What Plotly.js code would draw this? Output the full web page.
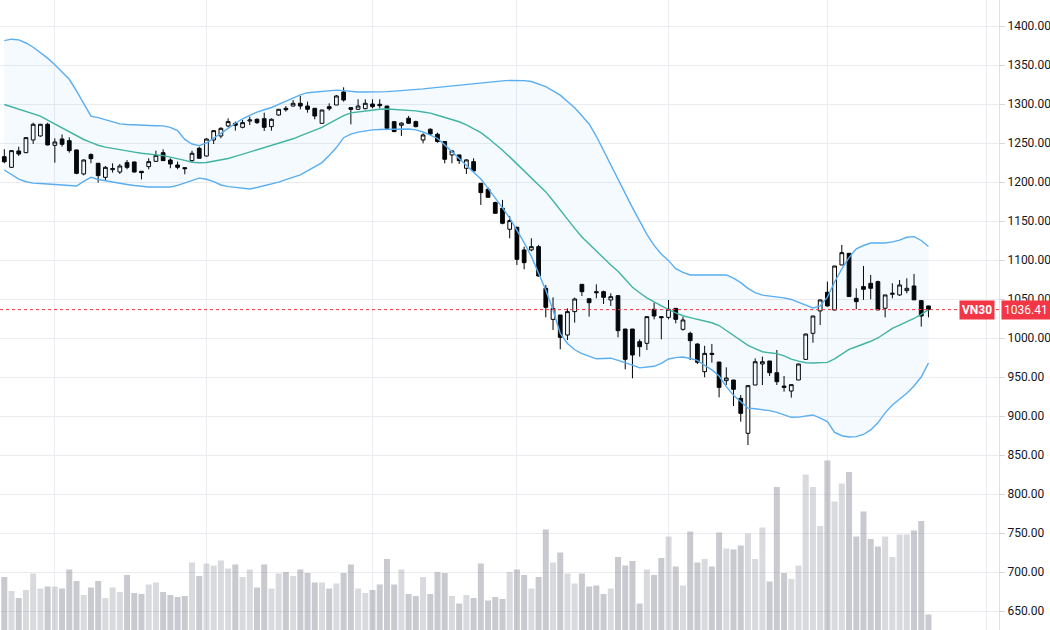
<!DOCTYPE html>
<html>
<head>
<meta charset="utf-8">
<script src="https://cdn.plot.ly/plotly-3.0.1.min.js"></script>
<style>
  html, body { margin: 0; padding: 0; background: #ffffff; }
  #chart { width: 1050px; height: 630px; }
</style>
</head>
<body>
<div id="chart"></div>
<script>
const symbol = 'VN30';

const openP = [1232.5,1218.8,1239.8,1237.6,1253.9,1259,1274,1247,1255.2,1253,
1241.1,1210.3,1235.1,1224,1206,1215.8,1212.8,1224.8,1225.7,1213.7,
1219.7,1226.5,1237.6,1228.2,1221.8,1218.4,1227.4,1243.2,1233.3,1253.9,
1259,1271.8,1275.2,1270.1,1278.2,1280.4,1281.2,1271,1285.9,1294.5,
1297.4,1300.9,1297.4,1294.5,1275.2,1296.6,1298.7,1315.4,1295.3,1293.2,
1294,1300,1299.6,1297.4,1277.4,1272.7,1281.7,1277.4,1253.9,1267.6,
1261.2,1251.8,1234.7,1234.7,1217.6,1226.1,1198.3,1190.6,1173.6,1166.3,
1139.4,1141.9,1112.9,1112.9,1117.1,1063.7,1023.9,1029.5,1003.8,1033.8,
1068.8,1050.4,1059.4,1059.4,1048.7,1054.3,1011.5,1011.5,995.3,993.2,
1036.8,1027.4,1026.5,1038,1011.1,1006,992.3,956.8,980.3,969.2,
945.3,946.1,922.6,877.8,939.7,966.7,970.5,955.5,938.4,932,
946.1,972.6,1006,1034.7,1058.6,1035.9,1093.6,1108.6,1050.9,1065.9,
1070.1,1072.3,1038.1,1056,1055.2,1060.7,1066.7,1047.9,1041.1];

const highP = [1242,1241,1245.3,1257,1276,1274.5,1276,1256,1261,1257.3,
1241.5,1229,1236.8,1224.5,1220.5,1224,1223.1,1228.2,1226,1214,
1230.4,1240.2,1241.9,1230.4,1226.1,1218.6,1240.2,1245.3,1256,1266.7,
1270.1,1281.6,1277.4,1279.5,1283.8,1281.6,1288.9,1281.6,1293.6,1297.4,
1305.1,1310.3,1303,1294.5,1292.5,1300.9,1311.6,1321.4,1295.5,1306,
1306,1306,1306,1297.5,1277.4,1276.5,1284.7,1278.7,1262.4,1268.9,
1263.3,1252,1241.1,1234.9,1229.1,1230.4,1198.5,1193.2,1174.8,1177,
1156.5,1142.8,1117.1,1127.8,1119.3,1068,1052.1,1029.6,1038,1051.7,
1069,1050.5,1068.8,1060.7,1057.3,1054.4,1011.6,1011.6,998.3,1027.5,
1045.3,1027.5,1048.7,1038.1,1027.4,1008.1,993.2,990,992.4,969.3,
962.4,946.2,926.9,939.7,973.9,976.1,970.6,984.6,951.3,940.5,
967,1005.5,1028.5,1049,1072.3,1092.5,1119.3,1108.7,1063.7,1092.3,
1080.8,1073.5,1055.2,1070.1,1074.4,1076.5,1082.1,1048,1041.2];

const lowP = [1224,1218,1233.4,1237,1248.8,1258,1247,1224.8,1245.3,1237.6,
1210,1208.5,1224,1199.2,1202.6,1212,1210.3,1216.3,1212,1203.4,
1216.3,1225.6,1227,1217.6,1216.3,1209.9,1226,1230,1232.5,1248.7,
1256,1270.1,1265.8,1268.8,1273.1,1274.4,1265.4,1265.8,1285,1290.2,
1296.6,1293.2,1288.9,1280.4,1275,1291.5,1298.5,1303,1273.9,1292.3,
1293.2,1294.5,1294.5,1268.5,1264,1259,1274.4,1270.1,1249.6,1260.3,
1250.5,1224,1224,1223.1,1210.3,1213.3,1170.6,1180.2,1159.7,1145.8,
1127.8,1093.6,1088.1,1111.2,1078.7,1026.5,1010.3,985.5,997.4,1019.7,
1053.8,1027.4,1050.9,1043.6,1041,1000.9,959.8,948.3,976.1,984.6,
1023.9,998.3,1023.9,1018.8,1009.4,971.8,966.7,949.6,968.4,923.9,
939.7,912.8,892.7,862.8,939.5,939.7,951.3,939.7,931.2,923.5,
946,972,994,1016.7,1040.2,1035.5,1093.5,1053,1036.8,1048.8,
1049.6,1035.9,1026.5,1050.9,1053.9,1057.3,1048.8,1014.6,1026.5];

const closeP = [1226,1240.2,1235.9,1256.9,1274,1274,1247.5,1251.3,1248.3,1240.2,
1211.1,1228.2,1229.9,1208.2,1218.8,1217.1,1220.5,1218.8,1212.8,1212,
1226.1,1234.2,1227.4,1223.1,1218.8,1217.1,1236.8,1230.4,1255.1,1265.8,
1268.8,1277.4,1272.7,1276.1,1279.5,1276.1,1270.1,1280.4,1293.2,1292.7,
1300.9,1297.4,1293.2,1284.6,1292.3,1294,1310.3,1305.1,1293.2,1297.4,
1300.9,1296.6,1297.9,1268.8,1264.6,1275.5,1275.3,1271,1260.3,1261.6,
1251.8,1229.1,1239.8,1227.4,1228.3,1214.2,1186.4,1180.4,1159.9,1147.1,
1150.5,1100.9,1096.6,1117.1,1079.5,1039.3,1038,1000.9,1033.8,1050,
1059.4,1045.3,1058.1,1052.1,1053,1009.4,972.6,978.2,988.9,1027.4,
1028.2,1026.1,1036.8,1023.9,1023.1,996.6,969,980.3,979,936.7,
948.7,934.2,903.4,938.9,969.6,969.6,955.5,944,936.7,940.2,
966.7,1005.1,1028.2,1048.8,1041.1,1092.3,1109.4,1053.1,1046.6,1062.4,
1063.7,1036,1055.2,1057.3,1068,1063.7,1048.9,1028.2,1036.41];

const volume = [106,78,64,80,113,83,87,87,83,121,
98,70,85,98,64,85,76,110,74,72,
91,95,76,70,66,68,135,108,133,129,
139,123,131,106,121,85,131,83,113,116,
108,121,114,95,95,83,93,114,131,83,
74,80,91,142,91,121,72,68,106,72,
116,114,68,53,70,64,133,59,66,62,
116,121,110,83,106,201,135,155,113,93,
113,87,89,72,83,146,129,138,53,121,
110,144,187,127,89,197,135,142,127,195,
163,161,169,193,142,205,97,286,114,102,
129,311,286,208,339,257,293,316,187,237,
182,167,187,146,191,191,199,218,31];

const bbUpper = [1381.2,1383.1,1382.2,1378.2,1372.8,1366.3,1358.8,1350.3,1340.9,1331.7,
1316.7,1300,1284.4,1282.6,1279.9,1277.1,1274.5,1273.7,1273.1,1272.7,
1272.4,1272.2,1271.9,1270,1265.8,1254.6,1248.7,1246.7,1250,1255.9,
1262.2,1268.7,1275.3,1281,1285.4,1289.7,1292.6,1295.5,1299.6,1304,
1308.2,1311.8,1314.5,1315.1,1316,1316.9,1317.8,1317.1,1316.2,1315.4,
1315.4,1315.4,1315.4,1315.9,1316.5,1317.1,1317.6,1318.3,1319.4,1320.4,
1321.4,1322.4,1323.3,1324.2,1325.1,1326.2,1327.1,1328,1328.8,1329.7,
1330.3,1330.6,1330,1328.8,1325.8,1322.4,1316.9,1311.3,1303.2,1295.3,
1284.9,1274.4,1258.6,1240.8,1222.3,1203.8,1185.4,1167.2,1149.5,1132.8,
1118.8,1107.6,1099.2,1088.8,1084.2,1080.8,1080.8,1080.8,1080.9,1081.7,
1080.9,1076.8,1071,1063.6,1058.2,1054.9,1053.8,1053,1051.5,1049.4,
1045.6,1042,1038.5,1041.2,1052.3,1071.8,1088.7,1103.1,1114.4,1118.6,
1121.8,1121.8,1121.8,1123.3,1125.5,1129.1,1130,1125,1117.4];

const bbMiddle = [1299.4,1296.2,1293,1290,1287.2,1284.4,1279.2,1274.2,1269,1264,
1258.8,1254.5,1250.8,1247.1,1244.7,1243,1241,1239.7,1238.3,1236.9,
1236,1235.1,1233.8,1231.9,1230.1,1227.7,1225.4,1224.7,1225,1226.4,
1227.8,1230.1,1232.8,1235.6,1238.3,1241,1243.8,1246.7,1249.5,1252.3,
1255.4,1259.1,1262.7,1266.4,1270,1275.1,1280.6,1285.1,1288.6,1289.9,
1291,1292.2,1293.2,1293.5,1293.1,1292.7,1292.4,1291.2,1289.7,1288.3,
1285.6,1283,1280.1,1277.2,1273.3,1268.5,1263.3,1256.3,1249.1,1240.8,
1232.2,1223.2,1214,1204.7,1196,1187.3,1175.9,1163.7,1152.1,1140.5,
1129.6,1120.4,1111.2,1101.8,1093.6,1085.5,1075.6,1065,1058,1051.4,
1046.2,1041,1036.4,1032.1,1028.5,1026.2,1023.8,1021.7,1019.5,1016,
1009.7,1003.2,996.7,990.5,986.4,982.4,981,980,977.1,972.8,
970.3,968.3,968,968,968.8,973.3,979.7,985.5,988.8,992.1,
995.8,1000,1005.8,1012.3,1016.4,1020.4,1025,1030.4,1036.3];

const bbLower = [1215.4,1209.1,1203.6,1200.3,1198.5,1198.1,1197.6,1196.9,1196.3,1195.6,
1194.9,1200.8,1206,1203.2,1201.4,1199.9,1198.3,1196.8,1195.5,1194.4,
1193.6,1193.6,1193.6,1193.6,1195.6,1199,1201.9,1204.9,1203.5,1200.4,
1196.2,1194.1,1193.1,1192.1,1191,1193,1195,1197.1,1199.9,1203,
1206,1209.2,1214.4,1219.7,1224.9,1234.1,1244.1,1256.8,1261.4,1264,
1265.6,1266.8,1267.3,1267.7,1268,1268,1268,1266.9,1264.1,1260.1,
1255.8,1247.6,1239,1230.3,1221.5,1212.8,1203.8,1191.8,1179.7,1166.8,
1153.6,1138.6,1122.3,1104.6,1082.6,1061.2,1036,1006,993,984.9,
979.9,976.7,973.3,973.7,974.1,971.3,968.6,965.3,961.7,962.6,
963.7,967.4,973.1,974.9,975.6,973.7,971.4,965,959.1,951.2,
937.7,926.5,917.8,910.1,909.2,908.3,906.9,904.7,901.8,898.3,
898.5,899.9,901.3,897.3,892.8,879,874.7,873.1,873.6,876.3,
882.1,891.2,904,914.2,922.1,929.2,938.5,950,968];

// session index of each bar (trading days), and first session of each month
const sessionIdx = openP.map((_, i) => i);
const monthStarts = [7, 28, 51, 71, 92, 114, 136];
const priceTicks = [650,700,750,800,850,900,950,1000,1050,1100,1150,1200,1250,1300,1350,1400];

const lastClose = closeP[closeP.length - 1];
const volColors = closeP.map((c, i) => c >= openP[i] ? 'rgba(120,123,134,0.28)' : 'rgba(120,123,134,0.40)');

const traces = [
  {
    type: 'bar', x: sessionIdx, y: volume, yaxis: 'y2',
    marker: { color: volColors, line: { width: 0 } },
    hoverinfo: 'skip', showlegend: false
  },
  {
    type: 'scatter', mode: 'lines', x: sessionIdx, y: bbUpper,
    line: { color: '#5aaef0', width: 1.4 }, hoverinfo: 'skip', showlegend: false
  },
  {
    type: 'scatter', mode: 'lines', x: sessionIdx, y: bbLower,
    line: { color: '#5aaef0', width: 1.4 }, fill: 'tonexty',
    fillcolor: 'rgba(33,150,243,0.05)', hoverinfo: 'skip', showlegend: false
  },
  {
    type: 'scatter', mode: 'lines', x: sessionIdx, y: bbMiddle,
    line: { color: '#41b3a3', width: 1.4 }, hoverinfo: 'skip', showlegend: false
  },
  {
    type: 'candlestick', x: sessionIdx,
    open: openP, high: highP, low: lowP, close: closeP,
    increasing: { line: { color: '#000000', width: 1 }, fillcolor: '#ffffff' },
    decreasing: { line: { color: '#000000', width: 1 }, fillcolor: '#000000' },
    whiskerwidth: 0, showlegend: false, name: symbol
  }
];

const layout = {
  width: 1050, height: 630,
  margin: { l: 0, r: 51, t: 0, b: 0, pad: 0 },
  paper_bgcolor: '#ffffff', plot_bgcolor: '#ffffff',
  showlegend: false,
  boxgap: 0.26,
  bargap: 0.17,
  xaxis: {
    range: [-0.596, 137.77],
    tickmode: 'array', tickvals: monthStarts,
    showticklabels: false, ticks: '',
    showgrid: true, gridcolor: '#ebebf0', gridwidth: 1,
    zeroline: false, showline: false,
    rangeslider: { visible: false }, fixedrange: true
  },
  yaxis: {
    side: 'right',
    range: [625.64, 1433.33],
    tickmode: 'array', tickvals: priceTicks,
    ticktext: priceTicks.map(v => v.toFixed(2)),
    ticks: 'outside', ticklen: 5, tickcolor: '#d6d6dc',
    tickfont: { family: 'Roboto, Arial, sans-serif', size: 12, color: '#131722' },
    showgrid: true, gridcolor: '#ebebf0', gridwidth: 1,
    zeroline: false, showline: true, linecolor: '#e0e0e6', linewidth: 1,
    fixedrange: true
  },
  yaxis2: {
    overlaying: 'y', side: 'left',
    range: [0, 1260],
    showgrid: false, showticklabels: false, zeroline: false, showline: false,
    fixedrange: true
  },
  shapes: [
    {
      type: 'line', xref: 'paper', yref: 'y',
      x0: 0, x1: 1, y0: lastClose, y1: lastClose,
      line: { color: '#f23645', width: 1, dash: 'dot' }
    }
  ],
  annotations: [
    {
      xref: 'paper', yref: 'y', x: 0.996, y: lastClose,
      xanchor: 'right', yanchor: 'middle', showarrow: false,
      text: '<b>' + symbol + '</b>',
      font: { family: 'Roboto, Arial, sans-serif', size: 12, color: '#ffffff' },
      bgcolor: '#f23645', borderpad: 2
    },
    {
      xref: 'paper', yref: 'y', x: 1.002, y: lastClose,
      xanchor: 'left', yanchor: 'middle', showarrow: false,
      text: lastClose.toFixed(2),
      font: { family: 'Roboto, Arial, sans-serif', size: 12, color: '#ffffff' },
      bgcolor: '#f23645', borderpad: 2
    }
  ]
};

Plotly.newPlot('chart', traces, layout, { displayModeBar: false, staticPlot: true });
</script>
</body>
</html>
